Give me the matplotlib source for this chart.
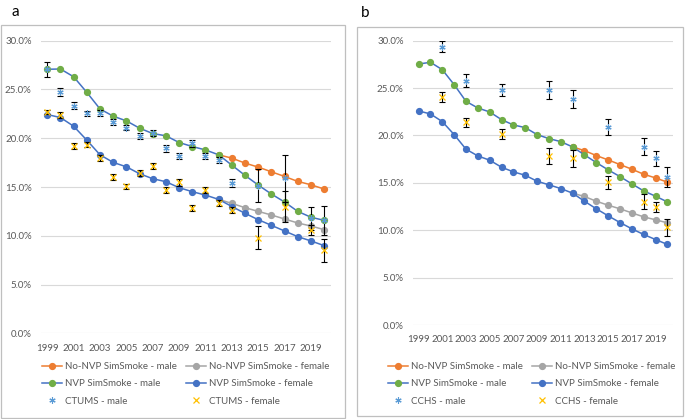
"""
smoking prevalence: SimSmoke projections vs survey estimates (a: CTUMS, b: CCHS)
"""
import matplotlib
matplotlib.use("Agg")
import matplotlib.pyplot as plt
from matplotlib.lines import Line2D
from matplotlib.patches import Rectangle
from matplotlib.ticker import FuncFormatter

plt.rcParams['font.family'] = ['Lato', 'DejaVu Sans']

years = list(range(1999, 2021))
years_nonvp = list(range(2012, 2021))

# panel a
a_nvp_male = [27.07, 27.1, 26.3, 24.7, 23.0, 22.26, 21.78, 21.03, 20.48, 20.25, 19.56,
              19.15, 18.8, 18.3, 17.24, 16.19, 15.2, 14.28, 13.46, 12.5, 11.9, 11.58]
a_nvp_female = [22.43, 22.12, 21.23, 19.8, 18.3, 17.52, 17.07, 16.36, 15.85, 15.54, 14.93,
                14.52, 14.17, 13.73, 13.0, 12.3, 11.65, 11.07, 10.49, 9.91, 9.47, 8.99]
a_nonvp_male = [18.3, 17.96, 17.45, 17.04, 16.56, 16.08, 15.57, 15.23, 14.79]
a_nonvp_female = [13.73, 13.32, 12.88, 12.5, 12.13, 11.72, 11.31, 11.0, 10.63]

ctums_years = [1999, 2000, 2001, 2002, 2003, 2004, 2005, 2006, 2007, 2008, 2009,
               2010, 2011, 2012, 2013, 2015, 2017, 2019, 2020]
ctums_male = [27.07, 24.77, 23.34, 22.56, 22.56, 21.7, 21.1, 20.23, 20.5, 18.97, 18.18,
              19.48, 18.18, 17.77, 15.44, 15.15, 15.9, 11.8, 11.6]
ctums_male_err = [0.75, 0.4, 0.35, 0.25, 0.3, 0.3, 0.3, 0.35, 0.3, 0.35, 0.35,
                  0.35, 0.35, 0.35, 0.4, 1.7, 2.4, 1.2, 1.5]
ctums_female = [22.72, 22.38, 19.2, 19.35, 17.96, 16.05, 15.06, 16.4, 17.15, 14.7, 15.48,
                12.88, 14.7, 13.33, 12.64, 9.8, 13.0, 10.6, 8.5]
ctums_female_err = [0.2, 0.3, 0.3, 0.3, 0.3, 0.3, 0.25, 0.3, 0.35, 0.35, 0.35,
                    0.3, 0.3, 0.3, 0.35, 1.2, 1.6, 0.5, 1.15]

# panel b
b_nvp_male = [27.54, 27.72, 26.94, 25.36, 23.6, 22.9, 22.48, 21.67, 21.11, 20.83, 20.09,
              19.67, 19.35, 18.79, 17.95, 17.14, 16.37, 15.66, 14.89, 14.15, 13.59, 12.99]
b_nvp_female = [22.59, 22.27, 21.46, 20.09, 18.55, 17.84, 17.39, 16.65, 16.16, 15.8, 15.17,
                14.79, 14.4, 13.91, 13.06, 12.26, 11.52, 10.81, 10.15, 9.55, 9.02, 8.5]
b_nonvp_male = [18.79, 18.4, 17.88, 17.42, 16.93, 16.44, 15.91, 15.52, 15.07]
b_nonvp_female = [13.91, 13.56, 13.06, 12.64, 12.26, 11.83, 11.41, 11.1, 10.78]

cchs_years = [2001, 2003, 2006, 2010, 2012, 2015, 2018, 2019, 2020]
cchs_male = [29.37, 25.78, 24.8, 24.83, 23.8, 20.86, 18.83, 17.6, 15.66]
cchs_male_err = [0.6, 0.7, 0.6, 0.95, 0.95, 0.85, 0.9, 0.8, 1.05]
cchs_female = [24.06, 21.39, 20.13, 17.84, 17.6, 15.07, 13.03, 12.43, 10.32]
cchs_female_err = [0.55, 0.5, 0.5, 0.8, 0.9, 0.7, 0.8, 0.55, 0.88]

ORANGE = "#ED7D31"
GRAY = "#A5A5A5"
GREEN = "#70AD47"
BLUE = "#4472C4"
LBLUE = "#5B9BD5"
GOLD = "#FFC000"
TXT = "#595959"
STAR = (6, 2, 0)

fig = plt.figure(figsize=(6.85, 4.19), dpi=100)
W, H = 685, 419


def px(x0, y0, x1, y1):
    # pixel box (top-left origin) -> figure rect
    return [x0 / W, 1 - y1 / H, (x1 - x0) / W, (y1 - y0) / H]


# panel frames
for (x0, y0, x1, y1) in [(0.5, 25, 345, 418), (357, 27, 683, 416)]:
    fig.add_artist(Rectangle((x0 / W, 1 - y1 / H), (x1 - x0) / W, (y1 - y0) / H,
                             transform=fig.transFigure, fill=False,
                             edgecolor="#BFBFBF", lw=0.9))
fig.text(11 / W, 1 - 12 / H, "a", fontsize=11, va="center", ha="left")
fig.text(361 / W, 1 - 13 / H, "b", fontsize=11, va="center", ha="left")


def panel(rect, nvp_m, nvp_f, nonvp_m, nonvp_f, s_years, s_m, s_me, s_f, s_fe,
          survey, leg_xy, xpad):
    ax = fig.add_axes(rect)
    ax.plot(years_nonvp, nonvp_m, color=ORANGE, marker="o", ms=4.2, lw=1.1)
    ax.plot(years_nonvp, nonvp_f, color=GRAY, marker="o", ms=4.2, lw=1.1)
    ax.plot(years, nvp_m, color=BLUE, marker="o", ms=4.2, lw=1.1,
            mfc=GREEN, mec=GREEN)
    ax.plot(years, nvp_f, color=BLUE, marker="o", ms=4.2, lw=1.1)
    ax.errorbar(s_years, s_m, yerr=s_me, fmt="none", ecolor="black",
                elinewidth=0.8, capsize=2.2, capthick=0.8, zorder=3)
    ax.errorbar(s_years, s_f, yerr=s_fe, fmt="none", ecolor="black",
                elinewidth=0.8, capsize=2.2, capthick=0.8, zorder=3)
    ax.plot(s_years, s_m, ls="none", marker=STAR, ms=4.5, mew=0.8, color=LBLUE, zorder=4)
    ax.plot(s_years, s_f, ls="none", marker="x", ms=4, mew=0.9, color=GOLD, zorder=4)

    ax.set_xlim(1998.5, 2020.5)
    ax.set_ylim(0, 30)
    ax.set_yticks(range(0, 31, 5))
    ax.yaxis.set_major_formatter(FuncFormatter(lambda v, p: f"{v:.1f}%"))
    ax.set_xticks(range(1999, 2021, 2))
    ax.grid(axis="y", color="#D9D9D9", lw=0.8)
    ax.set_axisbelow(True)
    for s in ax.spines.values():
        s.set_visible(False)
    ax.tick_params(axis="both", length=0, labelsize=7, labelcolor=TXT)
    ax.tick_params(axis="y", pad=6.5)
    ax.tick_params(axis="x", pad=xpad)

    handles = [
        Line2D([], [], color=ORANGE, marker="o", ms=4.2, lw=1.1),
        Line2D([], [], color=BLUE, marker="o", ms=4.2, lw=1.1, mfc=GREEN, mec=GREEN),
        Line2D([], [], ls="none", marker=STAR, ms=4.5, mew=0.8, color=LBLUE),
        Line2D([], [], color=GRAY, marker="o", ms=4.2, lw=1.1),
        Line2D([], [], color=BLUE, marker="o", ms=4.2, lw=1.1),
        Line2D([], [], ls="none", marker="x", ms=4, mew=0.9, color=GOLD),
    ]
    labels = ["No-NVP SimSmoke - male", "NVP SimSmoke - male", f"{survey} - male",
              "No-NVP SimSmoke - female", "NVP SimSmoke - female", f"{survey} - female"]
    leg = ax.legend(handles, labels, ncol=2, frameon=False, fontsize=7,
                    loc="upper left", bbox_to_anchor=(leg_xy[0] / W, 1 - leg_xy[1] / H),
                    bbox_transform=fig.transFigure, borderpad=0, borderaxespad=0,
                    handlelength=2.1, handletextpad=0.3, columnspacing=0.9,
                    labelspacing=0.85)
    for t in leg.get_texts():
        t.set_color(TXT)
    return ax


panel(px(40.7, 40.7, 330.7, 333.3), a_nvp_male, a_nvp_female, a_nonvp_male, a_nonvp_female,
      ctums_years, ctums_male, ctums_male_err, ctums_female, ctums_female_err,
      "CTUMS", (41.7, 362), 7.5)
panel(px(412.7, 40.7, 673.3, 325), b_nvp_male, b_nvp_female, b_nonvp_male, b_nonvp_female,
      cchs_years, cchs_male, cchs_male_err, cchs_female, cchs_female_err,
      "CCHS", (388, 362), 7)

fig.savefig("out.png", dpi=100)
